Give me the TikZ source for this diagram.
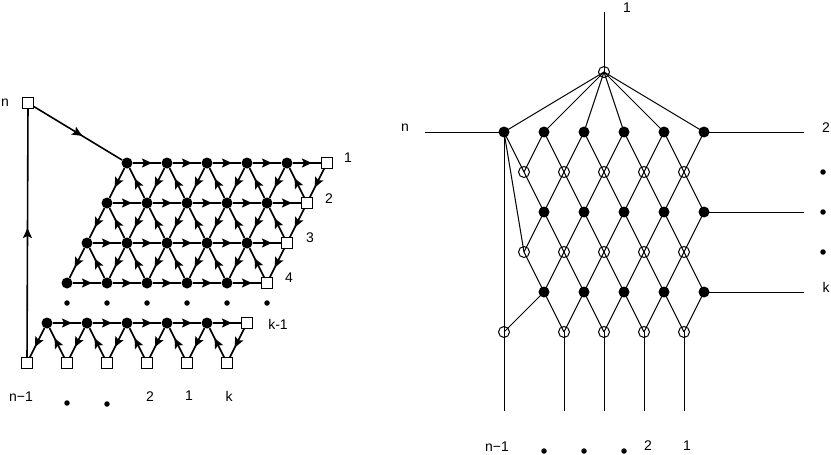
\documentclass[tikz,border=0pt]{standalone}
\usepackage{fontspec}
\setmainfont{Liberation Sans}
\usetikzlibrary{arrows.meta,decorations.markings}
\tikzset{
 sq/.style={draw, fill=white, minimum size=10.5pt, inner sep=0pt, line width=1.1pt},
 fdot/.style={circle, fill=black, minimum size=11pt, inner sep=0pt},
 odot/.style={circle, draw, minimum size=11pt, inner sep=0pt, line width=1pt},
 sdot/.style={circle, fill=black, minimum size=5.5pt, inner sep=0pt},
 arr/.style={line width=1.6pt, postaction={decorate}, decoration={markings, mark=at position 0.5 with {\arrow[xshift=5pt]{Stealth[length=10pt,width=9pt,inset=2pt]}}}},
 ln/.style={line width=1pt},
 lab/.style={font=\fontsize{14}{16}\selectfont, inner sep=0pt},
}
\begin{document}
\begin{tikzpicture}[x=1pt,y=-1pt]
\useasboundingbox (0,0) rectangle (831,455);
% ---------- left diagram ----------
\node[sq] (Ln) at (28,103) {};
\foreach \r in {1,...,5}{
  \pgfmathsetmacro\yy{163+40*(\r-1)}
  \pgfmathsetmacro\xx{127-20*(\r-1)}
  \foreach \i in {0,...,4}{\node[fdot] (L\r-\i) at (\xx+40*\i,\yy) {};}
  \node[sq] (L\r-5) at (\xx+200,\yy) {};
}
\foreach \i in {0,...,5}{\node[sq] (L6-\i) at (27+40*\i,363) {};}
\foreach \i in {0,...,5}{\node[sdot] (Q\i) at (67+40*\i,303) {};}
\foreach \r in {1,...,5}{
  \foreach \i [evaluate=\i as \j using int(\i+1)] in {0,...,4}{\draw[arr] (L\r-\i) -- (L\r-\j);}
}
\foreach \r/\s in {1/2,2/3,3/4,5/6}{
  \foreach \i in {0,...,5}{\draw[arr] (L\r-\i) -- (L\s-\i);}
  \foreach \i [evaluate=\i as \j using int(\i+1)] in {0,...,4}{\draw[arr] (L\s-\j) -- (L\r-\i);}
}
\draw[arr] (Ln) -- (L1-0);
\draw[arr] (L6-0) -- (Ln);
\node[lab] (tn) at (5,103) {n};
\node[lab] (t1) at (348,158) {1};
\node[lab] (t2) at (329,199) {2};
\node[lab] (t3) at (310,238) {3};
\node[lab] (t4) at (289,278) {4};
\node[lab] (tk1) at (278,324) {k-1};
\node[lab] (bn1) at (21,397) {n−1};
\node[sdot] (bd1) at (67,403) {};
\node[sdot] (bd2) at (107,404) {};
\node[lab] (b2) at (150,397) {2};
\node[lab] (b1) at (189,396) {1};
\node[lab] (bk) at (229,396) {k};
% ---------- right diagram ----------
\node[odot] (T) at (604,72) {};
\coordinate (Ttop) at (604,12);
\foreach \j in {0,...,5}{\node[fdot] (A\j) at (504+40*\j,132) {};}
\foreach \j in {0,...,4}{\node[odot] (B\j) at (524+40*\j,172) {};}
\foreach \j in {1,...,5}{\node[fdot] (C\j) at (504+40*\j,212) {};}
\foreach \j in {0,...,4}{\node[odot] (D\j) at (524+40*\j,252) {};}
\foreach \j in {1,...,5}{\node[fdot] (E\j) at (504+40*\j,292) {};}
\node[odot] (F0) at (504,332) {};
\foreach \j in {1,...,4}{\node[odot] (F\j) at (524+40*\j,332) {};}
\coordinate (G0) at (504,411);
\foreach \j in {1,...,4}{\coordinate (G\j) at (524+40*\j,411);}
\coordinate (Hn) at (425,132);
\coordinate (H2) at (804,132);
\coordinate (H3) at (804,212);
\coordinate (Hk) at (804,292);
\draw[ln] (Ttop) -- (T.center);
\foreach \j in {0,...,5}{\draw[ln] (T.center) -- (A\j.center);}
\foreach \j in {0,...,4}{
  \pgfmathtruncatemacro\k{\j+1}
  \draw[ln] (A\j.center) -- (B\j.center) (B\j.center) -- (A\k.center)
    (B\j.center) -- (C\k.center) (C\k.center) -- (D\j.center) (D\j.center) -- (E\k.center);
}
\foreach \j in {1,...,4}{
  \draw[ln] (B\j.center) -- (C\j.center) (C\j.center) -- (D\j.center)
    (D\j.center) -- (E\j.center) (E\j.center) -- (F\j.center);
}
\foreach \j in {2,...,5}{
  \pgfmathtruncatemacro\k{\j-1}
  \draw[ln] (E\j.center) -- (F\k.center);
}
\draw[ln] (E1.center) -- (F0.center);
\draw[ln] (A0.center) -- (D0.center);
\draw[ln] (A0.center) -- (F0.center);
\foreach \j in {0,...,4}{\draw[ln] (F\j.center) -- (G\j);}
\draw[ln] (Hn) -- (A0.center);
\draw[ln] (A5.center) -- (H2);
\draw[ln] (C5.center) -- (H3);
\draw[ln] (E5.center) -- (Hk);
\node[lab] (r1) at (627,8) {1};
\node[lab] (rn) at (405,128) {n};
\node[lab] (r2) at (826,128) {2};
\node[sdot] (rd1) at (823,172) {};
\node[sdot] (rd2) at (823,212) {};
\node[sdot] (rd3) at (823,252) {};
\node[lab] (rk) at (826,287) {k};
\node[lab] (rb1) at (497,447) {n−1};
\node[sdot] (re1) at (544,451) {};
\node[sdot] (re2) at (584,451) {};
\node[sdot] (re3) at (624,451) {};
\node[lab] (rb2) at (648,446) {2};
\node[lab] (rb3) at (687,446) {1};
\end{tikzpicture}
\end{document}
